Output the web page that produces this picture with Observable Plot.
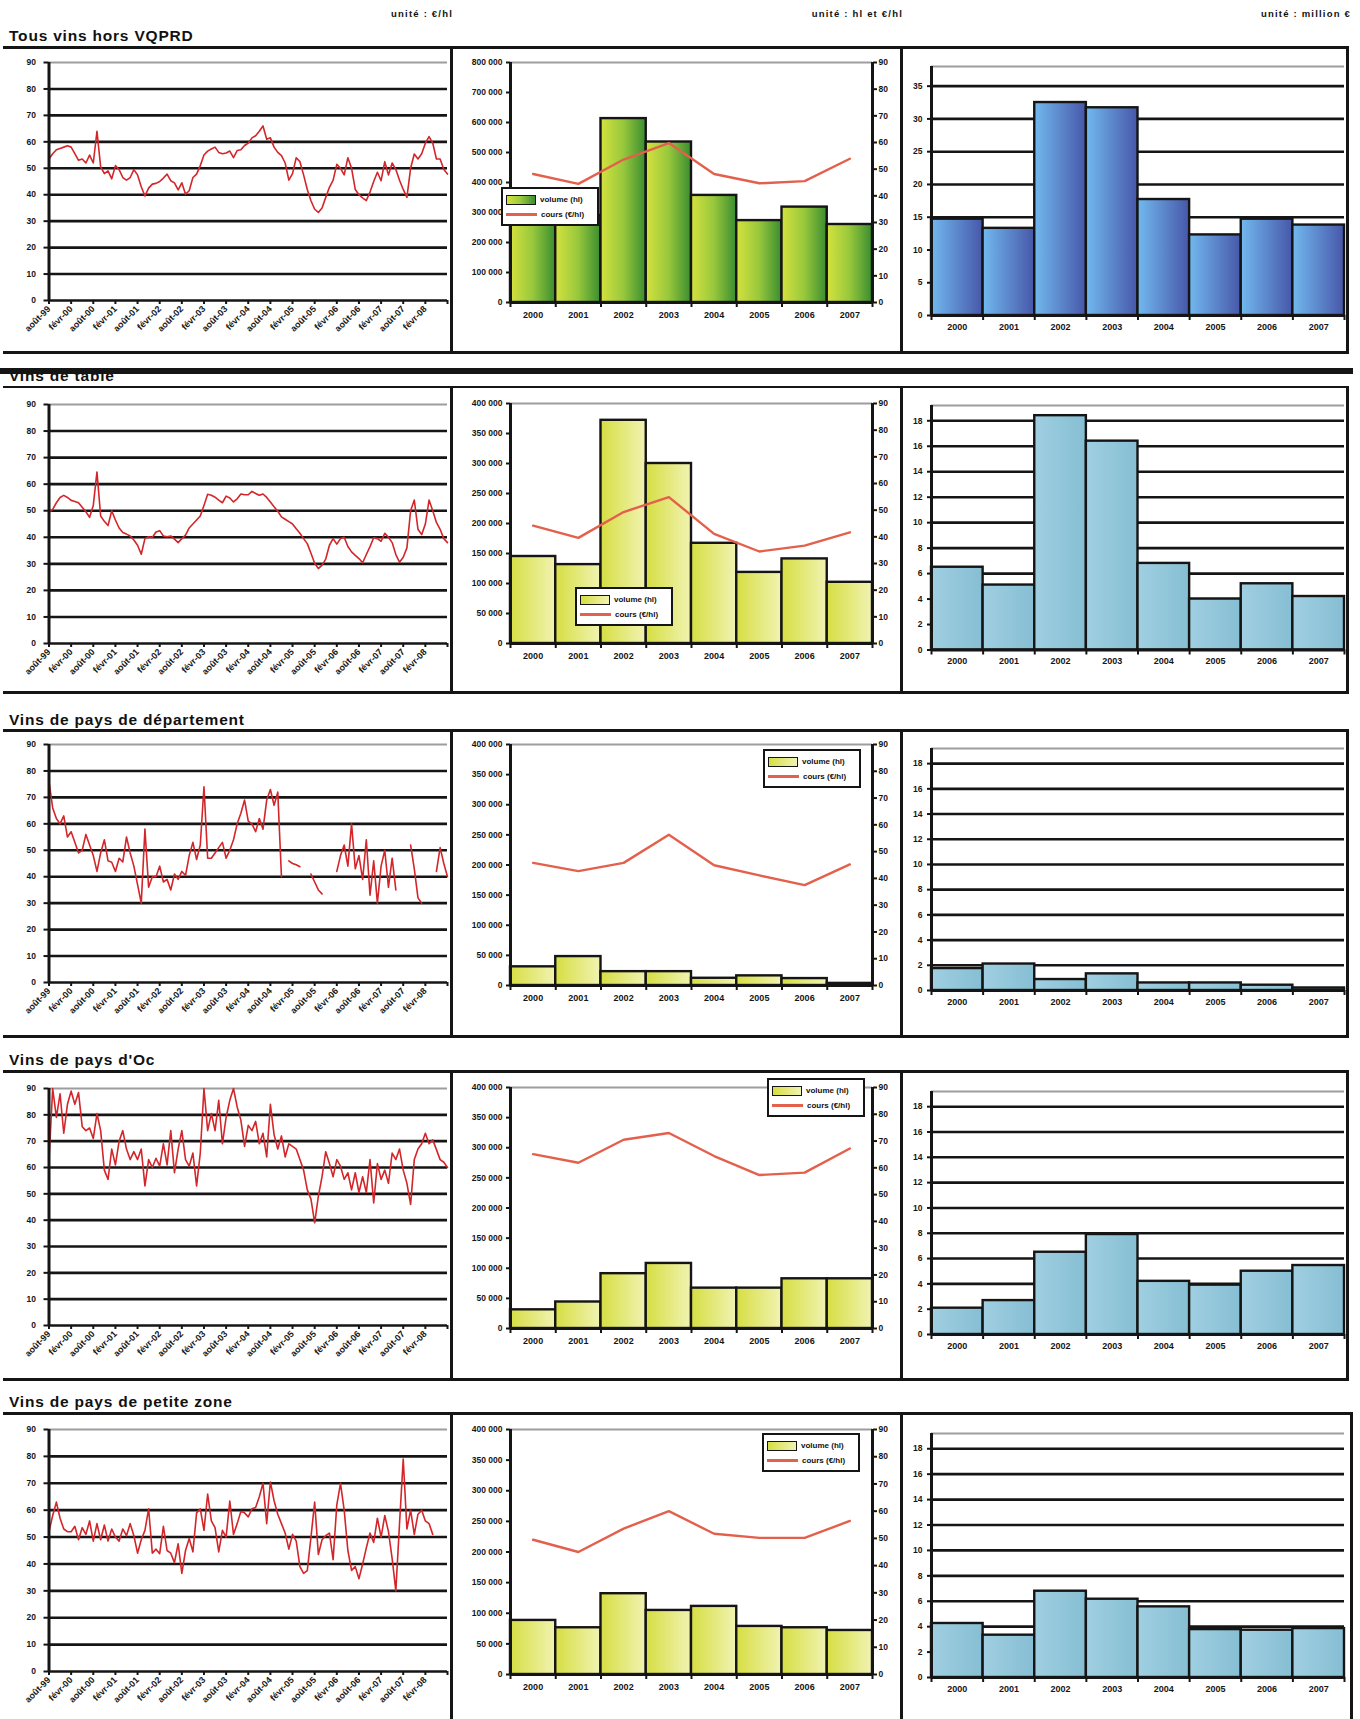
<!DOCTYPE html>
<html lang="fr">
<head>
<meta charset="utf-8">
<title>Cours et volumes des vins</title>
<script src="https://cdn.jsdelivr.net/npm/d3@7"></script>
<script src="https://cdn.jsdelivr.net/npm/@observablehq/plot@0.6"></script>
<style>
  body { margin: 0; background: #fff; }
  #page { position: relative; width: 1360px; height: 1719px; overflow: hidden; background: #fff;
          font-family: "Liberation Sans", Arial, sans-serif; color: #111; }
  .bar-line { position: absolute; background: #151515; }
  .title { position: absolute; font-weight: bold; font-size: 15.5px; letter-spacing: 0.8px; line-height: 1; white-space: nowrap; }
  .unit { position: absolute; font-weight: bold; font-size: 9.5px; letter-spacing: 1.2px; line-height: 1; white-space: nowrap; text-align: right; }
  .legend { position: absolute; background: #fff; border: 2px solid #151515; box-sizing: border-box;
            font-size: 8px; font-weight: bold; padding: 3px 4px 2px 3px; line-height: 1; }
  .legend .row { display: flex; align-items: center; height: 15px; white-space: nowrap; }
  .legend .sw { display: inline-block; width: 28px; height: 8px; border: 1.5px solid #151515; margin-right: 4px; }
  .legend .ln { display: inline-block; width: 31px; height: 2.5px; background: #e3604c; margin-right: 4px; }
</style>
</head>
<body>
<svg width="0" height="0" style="position:absolute">
  <defs>
    <linearGradient id="gVolGreen" x1="0" x2="1" y1="0" y2="0">
      <stop offset="0%" stop-color="#d5e23e"/>
      <stop offset="50%" stop-color="#98c83c"/>
      <stop offset="100%" stop-color="#3a8d30"/>
    </linearGradient>
    <linearGradient id="gVolYellow" x1="0" x2="1" y1="0" y2="0">
      <stop offset="0%" stop-color="#d6de42"/>
      <stop offset="100%" stop-color="#f1f3b2"/>
    </linearGradient>
    <linearGradient id="gValBlue" x1="0" x2="1" y1="0" y2="0">
      <stop offset="0%" stop-color="#72b9ef"/>
      <stop offset="100%" stop-color="#4757a9"/>
    </linearGradient>
    <linearGradient id="gValLight" x1="0" x2="1" y1="0" y2="0">
      <stop offset="0%" stop-color="#a0cfe1"/>
      <stop offset="100%" stop-color="#86bed3"/>
    </linearGradient>
  </defs>
</svg>
<div id="page"></div>
<script>
// ---------- data ----------
const sections = [
  "Tous vins hors VQPRD",
  "Vins de table",
  "Vins de pays de département",
  "Vins de pays d'Oc",
  "Vins de pays de petite zone"
];
const units = ["unité : €/hl", "unité : hl et €/hl", "unité : million €"];
const years = ["2000", "2001", "2002", "2003", "2004", "2005", "2006", "2007"];
const monthLabels = [
  "août-99", "févr-00", "août-00", "févr-01", "août-01", "févr-02", "août-02", "févr-03", "août-03",
  "févr-04", "août-04", "févr-05", "août-05", "févr-06", "août-06", "févr-07", "août-07", "févr-08"
];
const legendLabels = ["volume (hl)", "cours (€/hl)"];

// monthly prices (€/hl), one value per month from août-99
const coursMensuelHorsVQPRD = [
  53.5,55.5,57,57.5,58,58.5,58,55.5,53,53.5,
  52,55,52,64,50.5,48,49,46,51,49.5,
  46.5,45.5,46.5,49.5,47.5,43,39.5,42.5,44,44.3,
  45,46.3,47.8,45.3,44.5,41.8,44.5,40.2,41.5,46.5,
  47.8,51,55,56.5,57.3,58,56,55.5,55.8,56.5,
  54,56.7,57,58.6,59.5,61.5,62.3,64,66,61,
  61.5,58,56,54.8,52,45.5,48,54,52.5,47.5,
  42,37.7,34.5,33.3,35,39,42.8,45.5,51.5,50,
  47.5,54,50,42,40,38.8,37.8,41,45,48.5,
  45.3,52.5,47.5,52,49.5,45.5,42,39,50,55.4,
  53.5,55.5,59.5,62,59.5,53.5,53.5,49.5,47.8
];
const coursMensuelTable = [
  49.4,50.5,53,55,55.8,55,53.9,53.5,53,51.3,
  49.6,47.5,52,64.6,48,46,44.4,50,46.5,43.5,
  41.8,41.2,40.5,39,37,33.6,39.5,40.2,39.9,42,
  42.5,40.5,40.2,40.5,39.3,38,39.5,40.8,43.5,45,
  46.5,48,52,56.2,55.8,55.1,54,53,55.5,54.8,
  53.3,54.5,56.3,56,56,57.3,56.5,55.8,56.3,55,
  53.3,51.5,49.8,47.7,46.8,45.9,45,43.2,41.5,39.5,
  37.6,34,30.2,28.2,29.5,31.8,37,39.5,37.4,39.5,
  40,36.5,34.5,33.2,32,30.4,33.5,36.5,39.8,39.5,
  38.5,41.5,40,38,33.5,30.6,32.5,36,50,54,
  43,41,45,54,50,45.6,43,39.5,38
];
const coursMensuelDepartement = [
  76,66,62,60,63,55,57,53,49,50,
  56,52,48,42,49,54,46,45.5,42,47,
  45.6,55,49,44,37,30,58,36,40,40,
  44,38,39,35,41,39,42,40.5,48,53,
  46.5,52,74,47,47,49,51,53,47,50,
  54,60,64,69,61,60,57,62,58,69,
  73,67,72,40,null,46,45,44.5,43.8,null,
  null,41,38,35,33.5,null,null,null,42,48,
  52,44,60,43,48,39,54,33,46,30,
  44,50,36,47,35,null,null,null,52,43,
  32,30,null,null,null,42,51,45,40
];
const coursMensuelOc = [
  63,90,79,88,73,84,89,84,88.5,75.5,
  74,75,71,80.5,74,59,55.5,67,61,70,
  74,67,63,66,63,67,53,63,60,63.5,
  60.5,69,61,74,58,67,74,63,60.5,65.5,
  53,65.5,90,74,80.5,74,85.5,69,79,85.5,
  90,83,78,68,76,74,77.5,69,73,64,
  84,72.5,67,72,64,69,68,67,63,59,
  51.5,48,39,49,56.5,66,61.5,56.5,63,60.5,
  55.5,58,51.5,58,50.5,56.5,50.5,63,46.5,61.5,
  55.5,59,54,65.5,63,67,59,54,46,63,
  67,69,73,69,70.5,66.8,63,62,60
];
const coursMensuelPetiteZone = [
  52,58,63,57,53,52,52,54,49,53.5,
  51,56,48.5,55,49,54.5,48.5,53,50,48.5,
  53,50.5,55,50.5,44,49,52.5,60.5,44,45.5,
  43.8,54,45,44,40.5,47.5,36.5,45,49.5,44.5,
  59,60.5,52.5,66,56,53.5,44.5,52.5,50,63.4,
  51,55,59.5,59,57.5,60.5,61,65,70,55,
  70.5,63.5,58.5,55,51.5,45.5,51,48.5,39,36.5,
  37.5,50,63,43.5,49,50.5,51.5,41.6,62,70,
  60,45,37.6,39,34.5,40,46,51.5,48,57,
  50,58,52,42,30,55,79,53,60,51,
  58.5,60,56,55,51
];

// yearly volumes (hl)
const volumeHorsVQPRD   = [300000, 290000, 613000, 535000, 357000, 273000, 318000, 260000];
const volumeTable       = [145000, 131500, 372000, 300000, 167000, 118500, 141000, 102000];
const volumeDepartement = [31000, 48000, 23000, 23000, 12000, 16000, 11500, 3500];
const volumeOc          = [31000, 44000, 91000, 108000, 67000, 67000, 82500, 82500];
const volumePetiteZone  = [88300, 76300, 131900, 104600, 111200, 78500, 76300, 71900];

// yearly average prices (€/hl)
const coursHorsVQPRD   = [48.2, 44.5, 53.6, 59.8, 48.2, 44.7, 45.5, 53.9];
const coursTable       = [44.2, 39.6, 49.3, 54.9, 41.1, 34.5, 36.7, 41.7];
const coursDepartement = [45.8, 42.7, 45.8, 56.3, 44.9, 41.1, 37.5, 45.2];
const coursOc          = [65.1, 61.9, 70.5, 73.0, 64.4, 57.3, 58.2, 67.2];
const coursPetiteZone  = [49.5, 45.0, 53.6, 60.0, 51.7, 50.2, 50.2, 56.4];

// yearly values (million €)
const valeurHorsVQPRD   = [14.7, 13.3, 32.5, 31.7, 17.7, 12.3, 14.7, 13.8];
const valeurTable       = [6.5, 5.1, 18.4, 16.4, 6.8, 4.0, 5.2, 4.2];
const valeurDepartement = [1.74, 2.1, 0.87, 1.32, 0.6, 0.6, 0.42, 0.2];
const valeurOc          = [2.08, 2.68, 6.5, 7.9, 4.2, 3.9, 5.0, 5.45];
const valeurPetiteZone  = [4.25, 3.33, 6.79, 6.16, 5.56, 3.77, 3.72, 3.85];

// axis extents and tick steps
const volumeMax  = [800000, 400000, 400000, 400000, 400000];
const volumeStep = [100000, 50000, 50000, 50000, 50000];
const valeurMax  = [38, 19.2, 19.2, 19.2, 19.2];
const valeurStep = [5, 2, 2, 2, 2];
const valeurLastTick = [35, 18, 18, 18, 18];

const monthly = [coursMensuelHorsVQPRD, coursMensuelTable, coursMensuelDepartement, coursMensuelOc, coursMensuelPetiteZone];
const volumes = [volumeHorsVQPRD, volumeTable, volumeDepartement, volumeOc, volumePetiteZone];
const cours = [coursHorsVQPRD, coursTable, coursDepartement, coursOc, coursPetiteZone];
const valeurs = [valeurHorsVQPRD, valeurTable, valeurDepartement, valeurOc, valeurPetiteZone];

// ---------- page layout ----------
// T/B: frame top and bottom of each band; L/M/R: plot area top and bottom of each panel
const layout = [
  {T: 48,   B: 353,  titleTop: 28,   L: [62, 300],    M: [62, 302],    R: [66, 315],    legend: [501, 187]},
  {T: 387,  B: 693,  titleTop: 368,  L: [404, 643],   M: [403, 643],   R: [405, 649.5], legend: [575, 587]},
  {T: 731,  B: 1037, titleTop: 712,  L: [744, 982],   M: [744, 985],   R: [748, 990],   legend: [763, 749]},
  {T: 1072, B: 1380, titleTop: 1052, L: [1088, 1325], M: [1087, 1328], R: [1091, 1334], legend: [767, 1078]},
  {T: 1414, B: 1719, titleTop: 1394, L: [1429, 1671], M: [1429, 1674], R: [1433, 1677], legend: [762, 1433]}
];
const volumeFills = ["gVolGreen", "gVolYellow", "gVolYellow", "gVolYellow", "gVolYellow"];
const valeurFills = ["gValBlue", "gValLight", "gValLight", "gValLight", "gValLight"];
const swatchCss = {
  gVolGreen: "linear-gradient(90deg,#d5e23e,#98c83c,#3a8d30)",
  gVolYellow: "linear-gradient(90deg,#d6de42,#f1f3b2)"
};

const page = document.getElementById("page");
const FONT = "'Liberation Sans', Arial, sans-serif";
const INK = "#151515";
const baseStyle = {fontFamily: FONT, fontSize: "8.5px", fontWeight: "bold", color: INK, background: "transparent", overflow: "visible"};
const spaced = v => d3.format(",")(v).replace(/,/g, " ");

function place(node, left, top) {
  node.style.position = "absolute";
  node.style.left = left + "px";
  node.style.top = top + "px";
  page.appendChild(node);
  return node;
}
function rule(x, y, w, h) {
  const d = document.createElement("div");
  d.className = "bar-line";
  Object.assign(d.style, {left: x + "px", top: y + "px", width: w + "px", height: h + "px"});
  page.appendChild(d);
}
function text(cls, content, css) {
  const d = document.createElement("div");
  d.className = cls;
  d.textContent = content;
  Object.assign(d.style, css);
  page.appendChild(d);
}

// ---------- headers ----------
text("unit", units[0], {right: (1360 - 453) + "px", top: "9px"});
text("unit", units[1], {right: (1360 - 903) + "px", top: "9px"});
text("unit", units[2], {right: (1360 - 1351) + "px", top: "9px"});

// ---------- panels ----------
function monthlyPanel(r) {
  const g = layout[r];
  const series = monthly[r].map((v, i) => ({m: i, v}));
  const svg = Plot.plot({
    width: 452, height: g.B - g.T,
    marginLeft: 48.5, marginRight: 5,
    marginTop: g.L[0] - g.T, marginBottom: g.B - g.L[1],
    style: baseStyle,
    x: {domain: [0, 108]},
    y: {domain: [0, 90]},
    marks: [
      Plot.ruleY(d3.range(10, 81, 10), {stroke: INK, strokeWidth: 2.6}),
      Plot.ruleY([90], {stroke: "#9d9d9d", strokeWidth: 2}),
      Plot.line(series, {x: "m", y: "v", stroke: "#d3262a", strokeWidth: 1.6}),
      Plot.ruleY([0], {stroke: INK, strokeWidth: 2.6}),
      Plot.ruleX([0], {stroke: INK, strokeWidth: 3}),
      Plot.axisY({ticks: d3.range(0, 91, 10), tickSize: 5, tickPadding: 8, strokeWidth: 2, label: null}),
      Plot.axisX({ticks: d3.range(0, 109, 6), tickFormat: i => monthLabels[i / 6] ?? "",
                  tickRotate: -45, tickSize: 4, tickPadding: 3, strokeWidth: 2, fontSize: 9, label: null})
    ]
  });
  place(svg, 0, g.T);
}

function volumePanel(r) {
  const g = layout[r];
  const vMax = volumeMax[r];
  const k = vMax / 90; // price axis 0–90 €/hl shares the volume axis height
  const rows = years.map((y, i) => ({i, v: volumes[r][i], c: cours[r][i]}));
  const svg = Plot.plot({
    width: 450, height: g.B - g.T,
    marginLeft: 58, marginRight: 30,
    marginTop: g.M[0] - g.T, marginBottom: g.B - g.M[1],
    style: baseStyle,
    x: {domain: [-0.5, 7.5]},
    y: {domain: [0, vMax]},
    marks: [
      Plot.ruleY([vMax], {stroke: "#9d9d9d", strokeWidth: 2}),
      Plot.rect(rows, {x1: d => d.i - 0.5, x2: d => d.i + 0.5, y1: 0, y2: "v",
                       fill: `url(#${volumeFills[r]})`, stroke: INK, strokeWidth: 2.4}),
      Plot.line(rows, {x: "i", y: d => d.c * k, stroke: "#e3604c", strokeWidth: 2.4}),
      Plot.ruleY([0], {stroke: INK, strokeWidth: 3}),
      Plot.ruleX([-0.5], {stroke: INK, strokeWidth: 3}),
      Plot.ruleX([7.5], {stroke: INK, strokeWidth: 3}),
      Plot.axisY({ticks: d3.range(0, vMax + 1, volumeStep[r]), tickFormat: spaced,
                  tickSize: 4, tickPadding: 4, strokeWidth: 2, label: null}),
      Plot.axisY({anchor: "right", ticks: d3.range(0, 91, 10).map(c => c * k), tickFormat: v => Math.round(v / k),
                  tickSize: 4, tickPadding: 2, strokeWidth: 2, label: null}),
      Plot.axisX({ticks: d3.range(-0.5, 8, 1), tickFormat: () => "", tickSize: 5, strokeWidth: 2, label: null}),
      Plot.axisX({ticks: d3.range(0, 8), tickFormat: i => years[i], tickSize: 0, tickPadding: 9,
                  fontSize: 9, label: null})
    ]
  });
  place(svg, 452, g.T);

  const [lx, ly] = g.legend;
  const box = document.createElement("div");
  box.className = "legend";
  box.style.left = lx + "px";
  box.style.top = ly + "px";
  box.style.width = "98px";
  box.innerHTML =
    `<div class="row"><span class="sw" style="background:${swatchCss[volumeFills[r]]}"></span><span>${legendLabels[0]}</span></div>` +
    `<div class="row"><span class="ln"></span><span>${legendLabels[1]}</span></div>`;
  page.appendChild(box);
}

function valeurPanel(r) {
  const g = layout[r];
  const rows = years.map((y, i) => ({i, v: valeurs[r][i]}));
  const grid = d3.range(valeurStep[r], valeurLastTick[r] + 0.001, valeurStep[r]);
  const svg = Plot.plot({
    width: 448, height: g.B - g.T,
    marginLeft: 29, marginRight: 6,
    marginTop: g.R[0] - g.T, marginBottom: g.B - g.R[1],
    style: baseStyle,
    x: {domain: [-0.5, 7.5]},
    y: {domain: [0, valeurMax[r]]},
    marks: [
      Plot.ruleY(grid, {stroke: INK, strokeWidth: 2.6}),
      Plot.ruleY([valeurMax[r]], {stroke: "#9d9d9d", strokeWidth: 2}),
      Plot.rect(rows, {x1: d => d.i - 0.5, x2: d => d.i + 0.5, y1: 0, y2: "v",
                       fill: `url(#${valeurFills[r]})`, stroke: INK, strokeWidth: 2.4}),
      Plot.ruleY([0], {stroke: INK, strokeWidth: 3}),
      Plot.ruleX([-0.5], {stroke: INK, strokeWidth: 3}),
      Plot.axisY({ticks: d3.range(0, valeurLastTick[r] + 0.001, valeurStep[r]), tickSize: 4, tickPadding: 5,
                  strokeWidth: 2, label: null}),
      Plot.axisX({ticks: d3.range(-0.5, 8, 1), tickFormat: () => "", tickSize: 5, strokeWidth: 2, label: null}),
      Plot.axisX({ticks: d3.range(0, 8), tickFormat: i => years[i], tickSize: 0, tickPadding: 8,
                  fontSize: 9, label: null})
    ]
  });
  place(svg, 902, g.T);
}

// ---------- bands ----------
layout.forEach((g, r) => {
  text("title", sections[r], {left: "9px", top: g.titleTop + "px"});
  monthlyPanel(r);
  volumePanel(r);
  valeurPanel(r);
});

// frames drawn last so they sit above the plots
// band 1
rule(3, 46, 1346, 3);
rule(450, 46, 2.5, 307);
rule(900, 46, 2.5, 307);
rule(1346, 46, 2.5, 307);
rule(3, 351, 1346, 2.5);
// band 2
rule(0, 368, 1353, 6);
rule(3, 386, 1346, 2);
rule(450, 386, 2.5, 307);
rule(900, 386, 2.5, 307);
rule(1346, 386, 2.5, 307);
rule(3, 691, 1346, 2.5);
// band 3
rule(3, 729, 1346, 3);
rule(450, 729, 2.5, 308);
rule(900, 729, 2.5, 308);
rule(1346, 729, 2.5, 308);
rule(3, 1035, 1346, 2.5);
// band 4
rule(3, 1070, 1346, 3);
rule(450, 1070, 2.5, 310);
rule(900, 1070, 2.5, 310);
rule(1346, 1070, 2.5, 310);
rule(3, 1378, 1346, 2.5);
// band 5
rule(3, 1412, 1349, 2.5);
rule(450, 1412, 2.5, 307);
rule(900, 1412, 2.5, 307);
rule(1350, 1412, 2.5, 307);
</script>
</body>
</html>
